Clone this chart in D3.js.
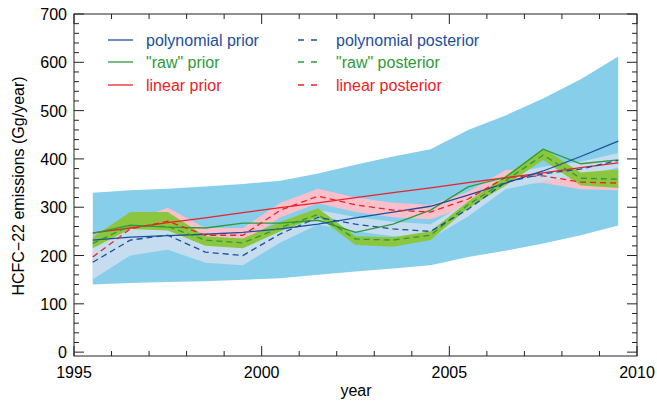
<!DOCTYPE html>
<html><head><meta charset="utf-8">
<script src="https://cdn.jsdelivr.net/npm/d3@7"></script>
<style>body{margin:0;background:#fff}text{font-family:"Liberation Sans",Arial,sans-serif}</style>
</head><body><svg id="chart" width="657" height="401"></svg>
<script>
const years = d3.range(15).map(i => 1995.5 + i);
const bandHi = [330,335,338,343,348,355,370,388,405,420,460,490,525,565,612];
const bandLo = [140,143,145,147,150,153,160,167,173,180,197,210,225,242,262];
const polyPrior = [232,238,241,244,248,255,265,278,290,302,325,350,375,405,437];
const rawPrior = [246,263,259,257,267,267,273,248,265,294,342,362,420,390,398];
const linPrior = [247,257,268,278,289,299,309,320,330,340,351,361,371,382,392];
const polyPost = [186,232,242,207,200,245,279,265,255,250,296,352,369,379,397];
const polyW = [35,32,30,22,20,18,15,15,15,15,15,15,15,15,15];
const rawPost = [225,262,260,232,226,258,285,234,232,242,305,355,408,360,358];
const rawLo = [215,255,252,220,215,250,280,222,218,232,298,345,398,345,340];
const rawHi = [238,290,290,240,235,270,298,240,238,250,312,365,422,372,378];
const linPost = [197,255,271,242,242,294,323,305,294,290,317,362,365,352,350];
const linW = [15,15,28,15,15,15,15,15,15,15,15,15,15,15,15];
const yTicks = [0,100,200,300,400,500,600,700];
const xTicks = [1995,2000,2005,2010];

const svg = d3.select("#chart");
const x = d3.scaleLinear().domain([1995, 2010]).range([74, 637]);
const y = d3.scaleLinear().domain([-8, 700]).range([356, 14]);
const C = {blue:"#1c4f9c", green:"#2e9a3a", red:"#ec2227"};

function band(lo, hi, fill) {
  svg.append("path").datum(years.map((t, i) => [t, lo[i], hi[i]]))
    .attr("fill", fill)
    .attr("d", d3.area().x(d => x(d[0])).y0(d => y(d[1])).y1(d => y(d[2])));
}
function line(v, col, dash) {
  svg.append("path").datum(years.map((t, i) => [t, v[i]]))
    .attr("fill", "none").attr("stroke", col).attr("stroke-width", 1.3)
    .attr("stroke-dasharray", dash ? "6,4" : null)
    .attr("d", d3.line().x(d => x(d[0])).y(d => y(d[1])));
}
band(bandLo, bandHi, "#87ceeb");
band(linPost.map((v, i) => v - linW[i]), linPost.map((v, i) => v + linW[i]), "#f9c0cb");
band(polyPost.map((v, i) => v - polyW[i]), polyPost.map((v, i) => v + polyW[i]), "#c6dcef");
band(rawLo, rawHi, "#8cc63f");
line(linPrior, C.red); line(rawPrior, C.green); line(polyPrior, C.blue);
line(linPost, C.red, true); line(rawPost, C.green, true); line(polyPost, C.blue, true);

// frame and ticks (inward)
const g = svg.append("g").attr("stroke", "#222").attr("stroke-width", 1);
g.append("rect").attr("x", 74).attr("y", 14).attr("width", 563).attr("height", 342).attr("fill", "none");
d3.range(0, 701, 20).forEach(v => {
  const L = v % 100 === 0 ? 10 : 5;
  g.append("line").attr("x1", 74).attr("x2", 74 + L).attr("y1", y(v)).attr("y2", y(v));
  g.append("line").attr("x1", 637).attr("x2", 637 - L).attr("y1", y(v)).attr("y2", y(v));
});
d3.range(1995, 2011).forEach(t => {
  const L = t % 5 === 0 ? 10 : 5;
  g.append("line").attr("x1", x(t)).attr("x2", x(t)).attr("y1", 356).attr("y2", 356 - L);
  g.append("line").attr("x1", x(t)).attr("x2", x(t)).attr("y1", 14).attr("y2", 14 + L);
});
svg.selectAll(".yt").data(yTicks).enter().append("text")
  .attr("x", 67).attr("y", d => y(d) + 6).attr("text-anchor", "end")
  .attr("font-size", 16).text(d => d);
svg.selectAll(".xt").data(xTicks).enter().append("text")
  .attr("x", d => x(d)).attr("y", 378).attr("text-anchor", "middle")
  .attr("font-size", 16).text(d => d);
svg.append("text").attr("x", 356).attr("y", 396).attr("text-anchor", "middle")
  .attr("font-size", 16).text("year");
svg.append("text").attr("transform", "translate(24,186) rotate(-90)")
  .attr("text-anchor", "middle").attr("font-size", 16).text("HCFC\u221222 emissions (Gg/year)");

// legend
const leg = [
  ["polynomial prior", C.blue, false, 108, 40], ["\"raw\" prior", C.green, false, 108, 62], ["linear prior", C.red, false, 108, 85],
  ["polynomial posterior", C.blue, true, 298, 40], ["\"raw\" posterior", C.green, true, 298, 62], ["linear posterior", C.red, true, 298, 85]
];
leg.forEach(([t, c, d, lx, ly]) => {
  svg.append("line").attr("x1", lx).attr("x2", lx + 25).attr("y1", ly).attr("y2", ly)
    .attr("stroke", c).attr("stroke-width", 1.3).attr("stroke-dasharray", d ? "6,7" : null);
  svg.append("text").attr("x", lx + 38).attr("y", ly + 6).attr("font-size", 16).attr("fill", c).text(t);
});
</script></body></html>
